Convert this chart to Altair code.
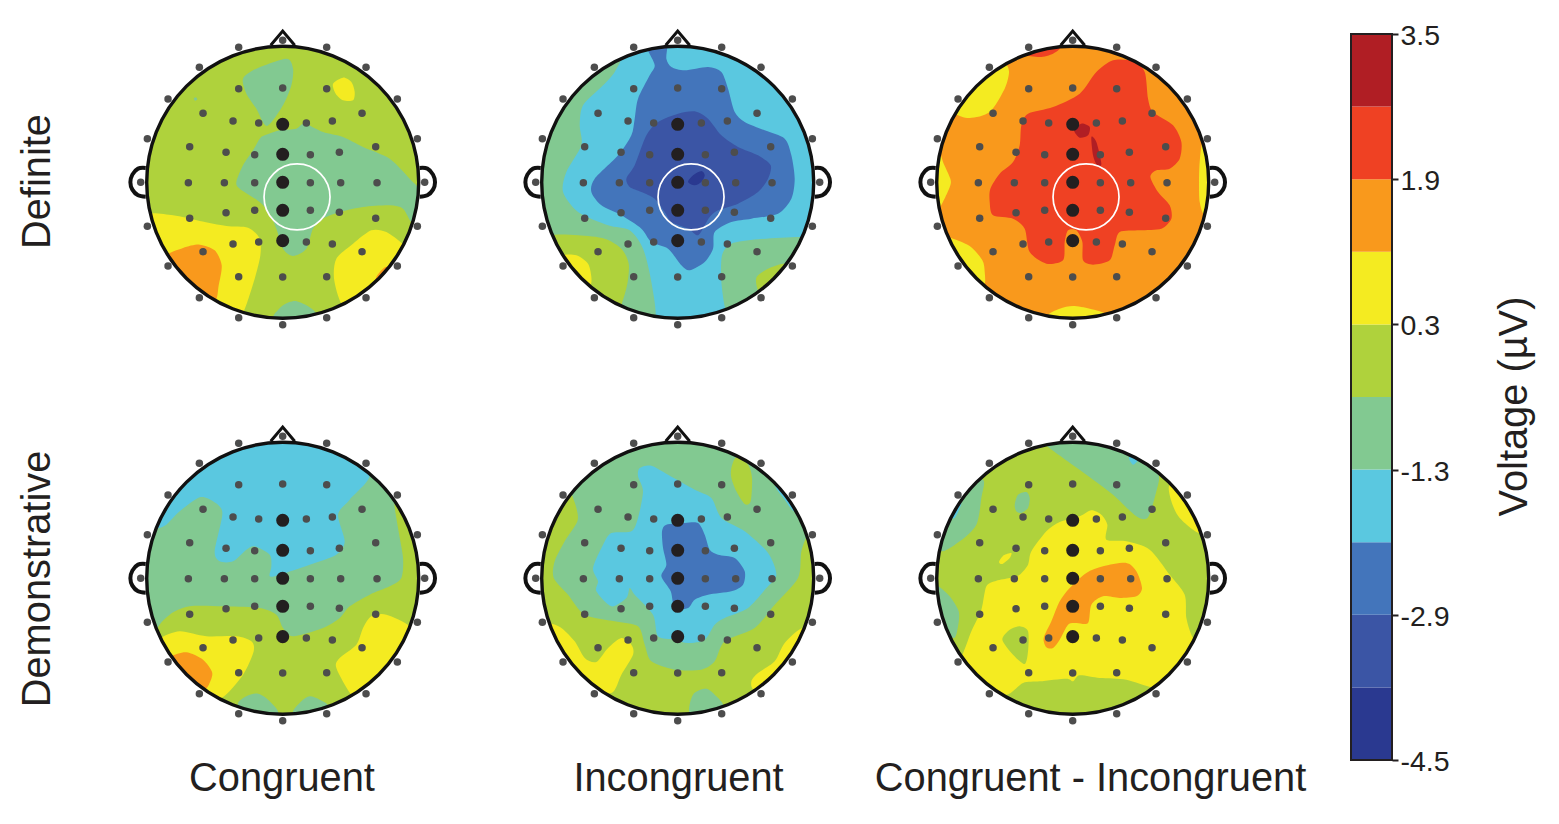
import altair as alt
import pandas as pd

# ---- voltage levels: colour band lower bound -> colour
LEVELS = [-4.5, -3.7, -2.9, -2.1, -1.3, -0.5, 0.3, 1.1, 1.9, 2.7]
COLORS = ["#2A3990", "#3B55A5", "#4375BB", "#5AC8E0", "#82C991",
          "#AFD23C", "#F4EB21", "#F9991C", "#EF4123", "#B01E24"]
NAVY, INDIGO, BLUE, CYAN, GREEN, LIME, YELLOW, ORANGE, RED, DARK = LEVELS
TICKS = [-4.5, -2.9, -1.3, 0.3, 1.9, 3.5]

ROWS = ["Definite", "Demonstrative"]
COLS = ["Congruent", "Incongruent", "Congruent - Incongruent"]

# ---- electrodes, in scalp units (centre 479,481, head radius 409)
OUTER = [(479,55),(347,76),(611,76),(229,136),(729,136),(135,231),(823,231),(73,350),(883,350),
         (53,481),(905,481),(73,613),(883,613),(135,732),(823,732),(229,827),(729,827),(347,887),(611,887),(479,908)]
INNER = [(347,200),(479,198),(611,200),(240,274),(717,274),(330,297),(407,303),(550,303),(628,297),
         (200,374),(309,391),(395,398),(562,398),(649,391),(758,374),
         (196,482),(304,482),(395,482),(562,482),(653,482),(762,482),
         (309,572),(395,565),(562,565),(649,571),(200,589),(758,589),
         (330,666),(407,660),(550,660),(628,666),(240,689),(717,689),(347,764),(479,765),(611,764)]
MIDLINE = [(479,307),(479,397),(479,481),(479,565),(479,656)]

EAR_L = [(68,438),(45,440),(28,458),(22,481),(28,503),(45,520),(68,524)]
EAR_R = [(890,438),(913,440),(930,458),(936,481),(930,503),(913,520),(890,524)]
NOSE = [(443,70),(479,27),(515,70)]

P11_BASE = LIME
P11 = [
 (GREEN, [(360,170),(400,140),(490,110),(510,140),(505,190),(480,250),(432,312),(400,260),(370,215)]),
 (GREEN, [(425,340),(470,325),(520,320),(545,305),(600,330),(660,345),(720,375),(800,410),(860,470),(895,510),(895,560),(868,602),(840,560),(800,550),(720,555),(650,570),(600,590),(570,620),(550,680),(510,702),(480,680),(460,620),(440,575),(410,540),(350,500),(340,480),(360,430),(390,385),(410,350)]),
 (YELLOW, [(70,578),(150,580),(230,597),(310,612),(375,617),(410,650),(412,700),(395,770),(362,868),(330,895),(230,860),(130,760),(70,650)]),
 (ORANGE, [(125,705),(180,678),(230,668),(275,685),(296,730),(287,790),(275,838),(215,830),(150,760)]),
 (YELLOW, [(655,845),(633,770),(640,710),(690,665),(745,625),(790,630),(838,665),(870,700),(800,800),(700,880)]),
 (ORANGE, [(758,775),(775,745),(795,735),(830,770),(790,810)]),
 (GREEN, [(450,885),(480,850),(515,837),(550,850),(580,878),(530,910),(470,910)]),
 (YELLOW, [(630,185),(660,167),(685,180),(695,210),(690,235),(660,235),(638,215)]),
 (GREEN, [(212,230),(218,226),(223,232),(217,236)]),
]
P12_BASE = CYAN
P12 = [
 (GREEN, [(305,105),(290,150),(255,190),(195,250),(185,310),(190,370),(145,450),(135,510),(180,570),(270,610),(335,625),(375,680),(400,780),(410,895),(330,900),(200,830),(90,700),(50,500),(80,320),(180,180)]),
 (LIME, [(100,640),(180,640),(260,650),(310,680),(332,725),(328,785),(310,850),(300,875),(200,840),(110,730),(85,670)]),
 (YELLOW, [(135,700),(175,700),(210,725),(220,765),(215,790),(170,790),(120,730)]),
 (GREEN, [(622,862),(610,780),(612,700),(640,665),(720,652),(850,645),(880,660),(810,800),(720,860),(640,890)]),
 (LIME, [(718,800),(716,765),(755,738),(805,725),(830,760),(770,815),(735,825)]),
 (GREEN, [(772,198),(800,225),(828,250),(850,220),(810,170)]),
 (GREEN, [(878,395),(884,440),(882,480),(905,480),(905,400)]),
 (BLUE, [(390,60),(390,85),(410,130),(395,160),(360,230),(350,290),(340,340),(300,400),(230,470),(220,510),(250,550),(310,580),(370,620),(400,660),(450,680),(490,730),(515,745),(560,720),(585,680),(590,630),(640,600),(700,590),(780,575),(820,530),(830,470),(820,400),(800,350),(740,325),(680,300),(650,270),(630,200),(610,150),(570,135),(500,145),(460,135),(445,110),(445,60)]),
 (INDIGO, [(325,470),(350,430),(385,340),(420,300),(480,275),(530,268),(570,290),(610,340),(660,375),(720,400),(758,430),(750,470),(720,510),(660,545),(600,565),(575,585),(560,610),(540,640),(510,620),(460,600),(440,570),(410,530),(370,510),(335,495)]),
 (NAVY, [(510,480),(525,460),(550,447),(560,460),(550,480),(530,490)]),
]
P13_BASE = ORANGE
P13 = [
 (YELLOW, [(125,275),(170,288),(230,270),(275,200),(288,150),(275,125),(230,140),(170,180),(110,250)]),
 (RED, [(335,95),(380,105),(420,95),(440,75),(380,60)]),
 (YELLOW, [(78,395),(92,425),(112,470),(112,490),(97,525),(75,560),(50,520),(50,440)]),
 (YELLOW, [(105,645),(170,672),(208,715),(215,750),(213,788),(170,770),(110,700),(85,650)]),
 (YELLOW, [(405,880),(440,860),(480,852),(530,860),(580,878),(530,910),(440,910)]),
 (YELLOW, [(868,365),(860,420),(858,480),(860,540),(875,575),(905,480),(895,370)]),
 (RED, [(230,540),(232,500),(260,455),(300,420),(320,370),(325,310),(345,275),(420,255),(500,215),(550,150),(600,115),(660,118),(695,150),(705,230),(720,270),(780,310),(805,360),(800,410),(770,440),(730,445),(712,465),(735,510),(770,550),(775,590),(745,620),(680,625),(620,630),(605,670),(590,715),(540,728),(510,715),(508,660),(490,625),(465,625),(455,660),(450,715),(400,725),(350,690),(335,620),(300,590),(240,580)]),
 (DARK, [(483,325),(505,305),(530,315),(525,340),(500,347)]),
 (DARK, [(535,345),(550,360),(565,425),(552,430),(540,400)]),
]
P21_BASE = GREEN
P21 = [
 (CYAN, [(100,330),(130,320),(170,280),(230,238),(270,250),(298,285),(275,400),(290,430),(330,430),(370,395),(395,385),(440,410),(445,445),(440,475),(470,470),(560,440),(640,410),(665,370),(645,290),(680,245),(740,172),(680,100),(480,50),(280,100),(150,200),(90,300)]),
 (LIME, [(815,255),(825,330),(840,420),(835,480),(800,505),(740,530),(680,565),(650,600),(600,630),(510,655),(480,630),(460,590),(410,570),(300,565),(200,565),(140,590),(100,645),(130,770),(300,890),(480,910),(680,880),(820,740),(900,560),(900,400),(850,290)]),
 (GREEN, [(345,860),(370,835),(405,827),(435,845),(465,885),(400,905)]),
 (GREEN, [(510,885),(535,850),(560,835),(590,845),(615,865),(570,905)]),
 (YELLOW, [(112,660),(170,640),(250,655),(340,655),(385,670),(392,700),(360,770),(295,840),(220,840),(130,740),(100,680)]),
 (ORANGE, [(145,715),(190,703),(240,725),(267,762),(262,790),(243,815),(190,790),(140,735)]),
 (YELLOW, [(685,830),(640,750),(650,720),(700,680),(720,630),(745,595),(790,590),(860,625),(880,680),(810,790),(720,840)]),
]
P22_BASE = LIME
P22 = [
 (GREEN, [(160,225),(175,270),(178,310),(140,370),(110,430),(107,480),(150,530),(200,590),(290,610),(360,625),(380,680),(400,730),(470,755),(550,755),(590,730),(620,670),(710,630),(770,560),(840,480),(850,400),(870,350),(900,350),(850,200),(700,90),(480,50),(280,90),(150,190)]),
 (LIME, [(640,150),(655,118),(690,140),(702,180),(698,250),(680,258),(655,220),(640,180)]),
 (CYAN, [(772,205),(800,245),(828,280),(850,250),(810,170),(790,180)]),
 (CYAN, [(365,150),(400,143),(450,170),(530,215),(580,240),(610,300),(680,340),(750,405),(775,470),(745,510),(690,570),(620,600),(590,620),(560,665),(510,675),(470,665),(420,655),(405,590),(350,530),(335,510),(325,540),(280,565),(235,520),(240,490),(225,450),(255,380),(280,345),(340,340),(360,300),(375,220),(360,175)]),
 (BLUE, [(432,340),(445,320),(500,315),(540,315),(560,350),(575,395),(600,410),(650,420),(680,460),(675,500),(640,520),(570,530),(530,545),(510,570),(470,570),(458,520),(430,475),(445,440),(435,390)]),
 (YELLOW, [(95,615),(130,630),(170,670),(200,720),(235,732),(270,690),(310,660),(340,680),(345,710),(310,770),(280,825),(200,810),(110,710),(75,620)]),
 (YELLOW, [(855,630),(800,675),(770,730),(720,765),(700,790),(710,815),(790,800),(880,680)]),
 (GREEN, [(515,885),(525,830),(565,812),(595,835),(615,865),(570,905)]),
]
P23_BASE = LIME
P23 = [
 (GREEN, [(400,82),(450,120),(520,170),(600,230),(670,295),(705,298),(730,220),(737,170),(700,110),(550,55),(400,60)]),
 (CYAN, [(648,120),(660,140),(675,125),(665,105)]),
 (GREEN, [(210,185),(205,240),(190,320),(140,370),(82,398),(60,300),(140,200)]),
 (CYAN, [(125,300),(145,255),(125,250),(105,290)]),
 (GREEN, [(305,260),(315,230),(340,222),(350,240),(345,270),(325,285),(310,280)]),
 (YELLOW, [(258,432),(272,412),(295,405),(290,420),(268,438)]),
 (GREEN, [(75,505),(110,535),(137,580),(135,625),(120,660),(60,600),(55,510)]),
 (YELLOW, [(220,505),(250,488),(290,480),(320,470),(345,440),(355,400),(400,340),(440,312),(500,295),(535,277),(565,290),(583,320),(580,365),(640,370),(710,395),(770,470),(815,530),(820,600),(840,660),(880,700),(800,800),(720,808),(640,785),(560,780),(500,772),(480,790),(460,782),(380,790),(330,795),(280,830),(200,810),(125,730),(148,710),(175,640),(205,575)]),
 (YELLOW, [(770,200),(775,250),(800,300),(860,345),(900,300),(830,190)]),
 (LIME, [(268,665),(290,635),(320,625),(345,640),(345,700),(335,738),(300,710)]),
 (ORANGE, [(392,660),(415,610),(440,550),(470,510),(520,465),(570,445),(640,435),(670,460),(687,510),(670,535),(620,540),(570,535),(535,560),(525,615),(490,615),(465,620),(440,665),(420,690),(400,688)]),
]
ROI_ROW = 0
ROI = {0: (522,525), 1: (519,525), 2: (519,525)}

# ---- layout
W, H = 1543, 808
CX = [282.7, 677.7, 1072.7]
CY = [182.3, 578.3]
UNIT = 3.0
R_PX = 136
MAPS = [[(P11_BASE, P11), (P12_BASE, P12), (P13_BASE, P13)],
        [(P21_BASE, P21), (P22_BASE, P22), (P23_BASE, P23)]]

def place(pts, r, c):
    return [(CX[c] + (x - 479) / UNIT, CY[r] + (y - 481) / UNIT) for x, y in pts]

rows_poly, rows_base, rows_out, rows_small, rows_big, rows_roi = [], [], [], [], [], []
pid = 0
for r in range(2):
    for c in range(3):
        base, regs = MAPS[r][c]
        rows_base.append(dict(x=CX[c], y=CY[r], level=base))
        for depth, (lvl, pts) in enumerate(regs):
            pid += 1
            for i, (x, y) in enumerate(place(pts, r, c)):
                rows_poly.append(dict(x=x, y=y, level=lvl, pid=pid, i=i, depth=depth))
        for name, pts in (("el", EAR_L), ("er", EAR_R), ("n", NOSE)):
            for i, (x, y) in enumerate(place(pts, r, c)):
                rows_out.append(dict(x=x, y=y, part=f"{name}{r}{c}", kind=name, i=i))
        for x, y in place(OUTER + INNER, r, c):
            rows_small.append(dict(x=x, y=y))
        for x, y in place(MIDLINE, r, c):
            rows_big.append(dict(x=x, y=y))
        if r == ROI_ROW:
            x, y = place([ROI[c]], r, c)[0]
            rows_roi.append(dict(x=x, y=y))

poly = pd.DataFrame(rows_poly)
base = pd.DataFrame(rows_base)
outl = pd.DataFrame(rows_out)
small = pd.DataFrame(rows_small)
big = pd.DataFrame(rows_big)
roi = pd.DataFrame(rows_roi)

xs = alt.Scale(domain=[8, 8 + W], range=[0, W], nice=False, zero=False)
ys = alt.Scale(domain=[8, 8 + H], range=[0, H], nice=False, zero=False)
X = alt.X("x:Q", scale=xs, axis=None)
Y = alt.Y("y:Q", scale=ys, axis=None)
col_scale = alt.Scale(domain=LEVELS, range=COLORS)
C = alt.Color("level:O", scale=col_scale, legend=None)

layers = [alt.Chart(base).mark_point(filled=True, shape="circle", size=(2 * R_PX + 2) ** 2, opacity=1, strokeWidth=0)
          .encode(x=X, y=Y, color=C)]
for d in sorted(poly.depth.unique()):
    layers.append(alt.Chart(poly[poly.depth == d]).mark_line(filled=True, interpolate="cardinal-closed", tension=0.2, strokeWidth=0, opacity=1)
                  .encode(x=X, y=Y, color=C, detail="pid:N", order="i:Q"))

layers.append(alt.Chart(base).mark_point(shape="circle", size=(2 * R_PX + 31) ** 2, stroke="white", strokeWidth=29, opacity=1, fill="transparent")
              .encode(x=X, y=Y))
layers.append(alt.Chart(base).mark_point(shape="circle", size=(2 * R_PX) ** 2, stroke="#111111", strokeWidth=3.4, opacity=1, fill="transparent")
              .encode(x=X, y=Y))
layers.append(alt.Chart(outl[outl.kind != "n"]).mark_line(color="#111111", strokeWidth=4, interpolate="cardinal")
              .encode(x=X, y=Y, detail="part:N", order="i:Q"))
layers.append(alt.Chart(outl[outl.kind == "n"]).mark_line(color="#111111", strokeWidth=3)
              .encode(x=X, y=Y, detail="part:N", order="i:Q"))
layers.append(alt.Chart(roi).mark_point(shape="circle", size=66 ** 2, stroke="white", strokeWidth=1.7, opacity=1, fill="transparent")
              .encode(x=X, y=Y))
layers.append(alt.Chart(small).mark_circle(size=56, color="#4D4D4D", opacity=1).encode(x=X, y=Y))
layers.append(alt.Chart(big).mark_circle(size=170, color="#231F20", opacity=1).encode(x=X, y=Y))

font = "Liberation Sans"
col_txt = pd.DataFrame(dict(x=[282, 678.5, 1090.5], y=[779, 779, 779], t=COLS))
row_txt = pd.DataFrame(dict(x=[38, 38], y=[181.5, 579], t=ROWS))
layers.append(alt.Chart(col_txt).mark_text(font=font, fontSize=39.8, color="#231F20", baseline="middle", align="center")
              .encode(x=X, y=Y, text="t:N"))
layers.append(alt.Chart(row_txt).mark_text(font=font, fontSize=39.8, color="#231F20", baseline="middle", align="center", angle=270)
              .encode(x=X, y=Y, text="t:N"))
main = alt.layer(*layers)

# ---- colour bar, on its own voltage scale
bands = pd.DataFrame(dict(level=LEVELS, hi=LEVELS[1:] + [3.5]))
vs = alt.Scale(domain=[-4.5, 3.5], range=[752, 26], nice=False, zero=False)
bar_x = dict(x=alt.value(1343), x2=alt.value(1384))
AX = alt.Axis(
    orient="right", offset=1384 - W, values=TICKS, format=".1f", domain=False, grid=False,
    labelExpr="replace(datum.label, '\u2212', '-')",
    tickSize=6, tickWidth=2, tickColor="#231F20", labelFont=font, labelFontSize=28.5,
    labelColor="#231F20", labelPadding=2, labelOffset=1.5, title="Voltage (µV)", titleFont=font,
    titleFontSize=39.8, titleFontWeight="normal", titleColor="#231F20", titleAngle=270,
    titlePadding=65, titleBaseline="middle", titleY=398)
bar = alt.Chart(bands).mark_rect().encode(
    y=alt.Y("level:Q", scale=vs, axis=AX), y2="hi:Q", color=C, **bar_x)
frame = alt.Chart(pd.DataFrame(dict(level=[-4.5], hi=[3.5]))).mark_rect(fill="transparent", stroke="#231F20", strokeWidth=2).encode(
    y=alt.Y("level:Q", scale=vs, axis=AX), y2="hi:Q", **bar_x)
cbar = alt.layer(bar, frame)

chart = alt.layer(main, cbar).resolve_scale(y="independent").resolve_axis(y="independent").properties(
    width=W, height=H, padding=0, autosize=alt.AutoSizeParams(type="none"),
    background="white"
).configure_view(stroke=None)

chart.save("out.html", embed_options={"renderer": "svg", "actions": False})
